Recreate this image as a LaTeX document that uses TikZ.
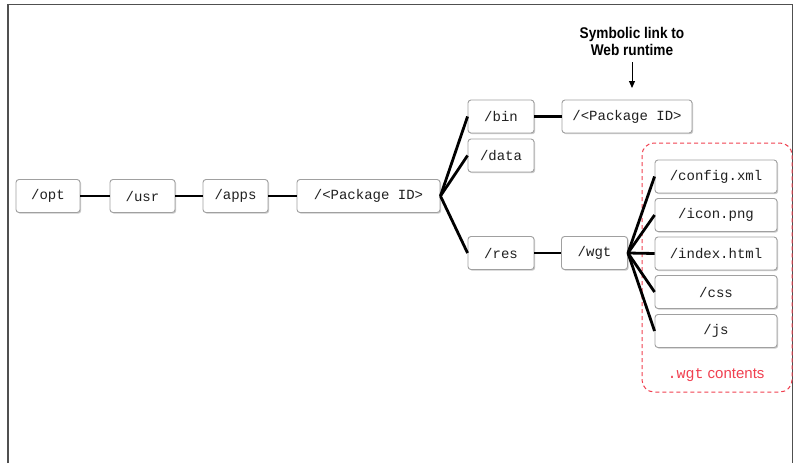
\documentclass[tikz,border=0pt]{standalone}
\usepackage{fontspec}
\setmainfont{Liberation Sans}
\setsansfont{Liberation Sans}
\setmonofont{Liberation Mono}
\usetikzlibrary{shadows,arrows.meta}
\definecolor{boxborder}{HTML}{A0A0A0}
\definecolor{wgtred}{HTML}{F04050}
\definecolor{framegray}{HTML}{505050}
\definecolor{monotext}{HTML}{202020}
\tikzset{
  dirbox/.style={draw=boxborder, line width=0.9pt, fill=white, rounded corners=3pt,
    minimum height=33pt, inner sep=0pt, text=monotext,
    font=\fontsize{14}{16}\selectfont\ttfamily,
    drop shadow={shadow xshift=1.2pt, shadow yshift=-1.2pt, opacity=0.35, fill=black!60}},
  link/.style={line width=2.8pt, black},
}
\begin{document}
\begin{tikzpicture}[x=1pt,y=-1pt]
\useasboundingbox (0,0) rectangle (794,463);
% frame
\draw[framegray, line width=1.6pt] (8,463) -- (8,4.5) -- (792.5,4.5) -- (792.5,463);
% dashed region
\draw[wgtred, line width=1pt, dash pattern=on 4pt off 3pt, rounded corners=12pt] (642,143) rectangle (792,392);
% nodes
\node[dirbox, minimum width=64pt] (opt) at (48,196) {/opt};
\node[dirbox, minimum width=65pt] (usr) at (142.5,196) {/usr};
\node[dirbox, minimum width=65pt] (apps) at (235.5,196) {/apps};
\node[dirbox, minimum width=143pt] (pkg) at (368.5,196) {/<Package ID>};
\node[dirbox, minimum width=66pt] (bin) at (501,116.5) {/bin};
\node[dirbox, minimum width=66pt] (data) at (501,155.5) {/data};
\node[dirbox, minimum width=66pt] (res) at (501,253) {/res};
\node[dirbox, minimum width=66pt] (wgt) at (594.5,253) {/wgt};
\node[dirbox, minimum width=130pt] (pkg2) at (627,116.5) {/<Package ID>};
\node[dirbox, minimum width=122pt] (config) at (716,176.5) {/config.xml};
\node[dirbox, minimum width=122pt] (icon) at (716,215) {/icon.png};
\node[dirbox, minimum width=122pt] (index) at (716,253.5) {/index.html};
\node[dirbox, minimum width=122pt] (css) at (716,292) {/css};
\node[dirbox, minimum width=122pt] (js) at (716,331) {/js};
% connectors
\draw[link] (opt.east) -- (usr.west);
\draw[link] (usr.east) -- (apps.west);
\draw[link] (apps.east) -- (pkg.west);
\draw[link] (pkg.east) -- (bin.west);
\draw[link] (pkg.east) -- (data.west);
\draw[link] (pkg.east) -- (res.west);
\draw[link] (bin.east) -- (pkg2.west);
\draw[link] (res.east) -- (wgt.west);
\foreach \n in {config,icon,index,css,js} \draw[link] (wgt.east) -- (\n.west);
% label and arrow
\node[font=\fontsize{15.5}{17}\selectfont\bfseries\addfontfeature{FakeStretch=0.88}, align=center] (sym) at (632,41) {Symbolic link to\\Web runtime};
\coordinate (arrtip) at (632,88);
\draw[line width=1pt, -{Triangle[length=7pt,width=6pt]}] (632,62) -- (arrtip);
\node[wgtred, font=\fontsize{15}{17}\selectfont] (wgtlabel) at (716,375) {{\ttfamily .wgt} contents};
\end{tikzpicture}
\end{document}
